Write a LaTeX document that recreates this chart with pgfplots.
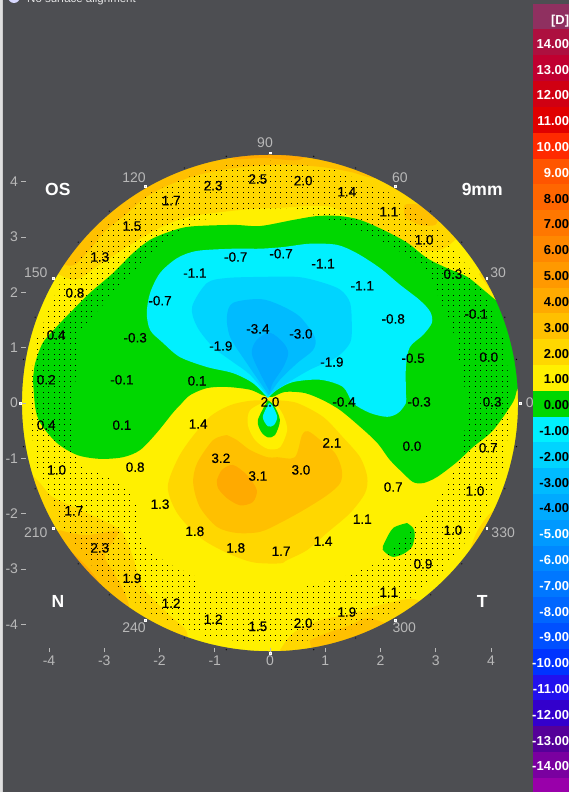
\documentclass[border=0pt]{standalone}
\usepackage{fontspec}
\setmainfont{Liberation Sans}
\newfontfamily\valfont[FakeBold=0.5]{Liberation Sans}
\usepackage{pgfplots}
\pgfplotsset{compat=1.18}
\usetikzlibrary{patterns}

\definecolor{bg}{HTML}{4D4E52}
\definecolor{tickgrey}{HTML}{B8B8B8}
\definecolor{cD}{HTML}{8F3060}
\definecolor{cp14}{HTML}{AD103F}
\definecolor{cp13}{HTML}{C00030}
\definecolor{cp12}{HTML}{D00012}
\definecolor{cp11}{HTML}{E00000}
\definecolor{cp10}{HTML}{FF2A00}
\definecolor{cp9}{HTML}{FF5500}
\definecolor{cp8}{HTML}{FF6600}
\definecolor{cp7}{HTML}{FF7700}
\definecolor{cp6}{HTML}{FF8800}
\definecolor{cp5}{HTML}{FF9900}
\definecolor{cp4}{HTML}{FFAA00}
\definecolor{cp3}{HTML}{FFC000}
\definecolor{cp2}{HTML}{FFD700}
\definecolor{cp1}{HTML}{FFF000}
\definecolor{c0}{HTML}{00D700}
\definecolor{cm1}{HTML}{00F0FF}
\definecolor{cm2}{HTML}{00D4FF}
\definecolor{cm3}{HTML}{00BBFF}
\definecolor{cm4}{HTML}{00AAFF}
\definecolor{cm5}{HTML}{0099FF}
\definecolor{cm6}{HTML}{0088FF}
\definecolor{cm7}{HTML}{0077FF}
\definecolor{cm8}{HTML}{0066FF}
\definecolor{cm9}{HTML}{0050FF}
\definecolor{cm10}{HTML}{0033FF}
\definecolor{cm11}{HTML}{2211EE}
\definecolor{cm12}{HTML}{3300CC}
\definecolor{cm13}{HTML}{550099}
\definecolor{cm14}{HTML}{7A00A0}
\definecolor{cm15}{HTML}{9900AA}

% stipple of the reference map
\pgfdeclarepatternformonly{stipple}{\pgfqpoint{-1pt}{-1pt}}{\pgfqpoint{1pt}{1pt}}{\pgfqpoint{5.4pt}{5.4pt}}{%
  \pgfpathrectangle{\pgfqpoint{-0.5pt}{-0.5pt}}{\pgfqpoint{1pt}{1pt}}\pgfusepath{fill}}

\pgfplotsset{
  zone/.style={fill=#1,draw=none,smooth,forget plot},
  band/.style={fill=#1,draw=none,forget plot},
}
\newcommand{\fs}[1]{\fontsize{#1}{#1}\selectfont}

\begin{document}
\begin{tikzpicture}
\useasboundingbox (0,0) rectangle (569pt,792pt);
\clip (0,0) rectangle (569pt,792pt);
\fill[bg] (0,0) rectangle (569pt,792pt);
\fill[black!12] (0,0) rectangle (3pt,792pt);

\begin{axis}[
    at={(26pt,144pt)},
    anchor=south west,
    scale only axis,
    width=488pt,
    height=490pt,
    xmin=-4.416,xmax=4.416,
    ymin=-4.43,ymax=4.43,
    clip=false,
    axis on top=true,
    axis line style={draw=none},
    xtick={-4,-3,-2,-1,0,1,2,3,4},
    ytick={-4,-3,-2,-1,0,1,2,3,4},
    xticklabels={-4,-3,-2,-1,0,1,2,3,4},
    yticklabels={-4,-3,-2,-1,0,1,2,3,4},
    xtick pos=bottom,
    ytick pos=left,
    tick align=outside,
    major tick length=4.5pt,
    tick style={draw=tickgrey,line width=0.8pt},
    tick label style={font=\fs{14},text=tickgrey},
  ]
% base of the map: 1 D
\addplot[band=cp1] coordinates {(-4.7,-4.7)(4.7,-4.7)(4.7,4.7)(-4.7,4.7)} --cycle;
% rim, 2 D upper
\addplot[zone=cp2] coordinates {(-3.98,2.41)(-3.53,2.23)(-3.08,2.50)(-2.53,2.86)(-1.99,3.17)(-1.45,3.37)(-.54,3.49)(.18,3.53)(1.09,3.55)(1.72,3.22)(2.35,2.95)(2.71,2.77)(3.08,2.77)(3.35,2.95)(3.71,3.40)(2,4.6)(0,4.7)(-2,4.6)(-3.8,3.6)(-3.98,2.41)};
\addplot[zone=cp2] coordinates {(3.78,2.33)(3.95,2.10)(4.16,1.85)(4.4,2.0)(4.1,2.5)(3.78,2.33)};
% rim, 3 D upper
\addplot[zone=cp3] coordinates {(-3.73,2.50)(-3.53,2.50)(-3.26,2.77)(-2.99,3.10)(-2.62,3.40)(-2.26,3.71)(-1.81,3.95)(-1.27,4.13)(-.63,4.25)(.18,4.31)(.91,4.27)(1.45,4.18)(1.90,4.07)(2.5,4.2)(0,4.7)(-2.5,4.2)(-4,2.7)(-3.73,2.50)};
\addplot[zone=cp3] coordinates {(2.44,3.35)(2.71,3.22)(2.99,3.22)(3.02,3.40)(2.71,3.58)(2.44,3.58)(2.44,3.35)};
\addplot[zone=cp4] coordinates {(-.63,4.40)(-.09,4.43)(.54,4.40)(.8,4.7)(-.9,4.7)(-.63,4.40)};
% rim, lower left
\addplot[zone=cp2] coordinates {(-4.31,-1.30)(-4.16,-1.45)(-3.93,-1.70)(-3.31,-1.99)(-2.71,-2.30)(-2.48,-2.79)(-2.30,-3.33)(-1.86,-3.80)(-1.50,-4.16)(-1.7,-4.6)(-3.5,-3.7)(-4.5,-2)(-4.6,-1.2)(-4.31,-1.30)};
\addplot[zone=cp3] coordinates {(-3.80,-2.30)(-3.35,-2.39)(-2.75,-2.33)(-2.99,-2.75)(-2.80,-3.11)(-2.58,-3.56)(-2.62,-3.83)(-3.5,-3.7)(-4.2,-2.7)(-3.80,-2.30)};
\addplot[zone=cp4] coordinates {(-3.57,-2.71)(-3.26,-3.02)(-3.02,-3.33)(-2.80,-3.56)(-3.3,-3.5)(-3.9,-2.9)(-3.57,-2.71)};
% rim, lower right
\addplot[zone=cp2] coordinates {(.18,-4.47)(.42,-4.16)(.91,-3.93)(1.50,-3.80)(2.12,-3.62)(2.66,-3.56)(3,-4)(1.5,-4.8)(.2,-4.8)(.18,-4.47)};
\addplot[zone=cp3] coordinates {(.72,-4.29)(1.03,-4.16)(1.45,-4.02)(1.81,-3.89)(2.3,-4.2)(1,-4.8)(.72,-4.29)};
\addplot[zone=cp2] coordinates {(3.62,-2.66)(3.76,-2.30)(4.07,-1.94)(4.6,-2)(4,-3)(3.62,-2.66)};
% inner plus zones
\addplot[zone=cp2] coordinates {(-.04,.05)(-.36,.04)(-.72,-.04)(-1.09,-.25)(-1.45,-.67)(-1.68,-1.03)(-1.85,-1.52)(-1.68,-1.99)(-1.27,-2.43)(-.78,-2.71)(-.31,-2.88)(.18,-2.90)(.31,-2.84)(.67,-2.66)(1.03,-2.35)(1.45,-1.99)(1.72,-1.63)(1.76,-1.34)(1.63,-.98)(1.32,-.62)(.96,-.25)(.49,0)(.13,.05)(-.04,.05)};
\addplot[zone=cp3] coordinates {(-.78,-.58)(-1.03,-.67)(-1.32,-1.09)(-1.39,-1.45)(-1.27,-1.88)(-.96,-2.24)(-.60,-2.35)(-.18,-2.33)(.18,-2.17)(.60,-1.94)(1.03,-1.67)(1.27,-1.45)(1.30,-1.21)(1.18,-.91)(.91,-.67)(.69,-.51)(.58,-.58)(.45,-.98)(.13,-.98)(-.05,-.98)(-.36,-.85)(-.60,-.67)(-.78,-.58)};
\addplot[zone=cp4] coordinates {(-.96,-1.39)(-.87,-1.21)(-.67,-1.12)(-.42,-1.30)(-.24,-1.57)(-.31,-1.79)(-.54,-1.85)(-.78,-1.72)(-.94,-1.54)(-.96,-1.39)};
% 0 D
\addplot[zone=c0] coordinates {(-4.29,.42)(-4.25,.72)(-4.11,1.09)(-3.86,1.38)(-3.62,1.63)(-3.26,1.99)(-2.84,2.35)(-2.48,2.71)(-2.17,2.95)(-1.81,3.10)(-1.45,3.19)(-.67,3.22)(-.18,3.20)(.42,3.31)(.85,3.38)(1.27,3.38)(1.63,3.31)(2.05,3.13)(2.48,2.90)(2.84,2.62)(3.20,2.44)(3.57,2.28)(3.93,1.99)(4.16,1.81)(4.71,1.50)(4.71,.33)(4.49,.27)(4.40,.02)(4.04,-.49)(3.67,-.80)(3.38,-1.07)(3.02,-1.34)(2.77,-1.45)(2.59,-1.43)(2.41,-1.27)(2.17,-1.03)(1.94,-.72)(1.63,-.43)(1.27,-.13)(.96,.05)(.63,.18)(.27,.20)(.04,.11)(-.13,.14)(-.36,.24)(-.78,.29)(-1.14,.27)(-1.45,.14)(-1.63,-.04)(-1.76,-.18)(-2.05,-.54)(-2.35,-.85)(-2.66,-.98)(-3.08,-1.01)(-3.49,-.94)(-3.86,-.72)(-4.16,-.36)(-4.25,-.07)(-4.29,.42)};
\addplot[zone=c0] coordinates {(2.48,-2.17)(2.23,-2.26)(2.08,-2.51)(2.04,-2.65)(2.21,-2.78)(2.41,-2.73)(2.57,-2.60)(2.62,-2.39)(2.59,-2.26)(2.48,-2.17)};
% centre teardrop
\addplot[zone=cp1] coordinates {(-.04,.05)(-.36,-.13)(-.40,-.40)(-.27,-.67)(-.04,-.83)(.18,-.80)(.31,-.49)(.24,-.22)(.09,0)(-.04,.05)};
\addplot[zone=c0] coordinates {(-.04,.05)(-.22,-.31)(-.16,-.52)(-.04,-.62)(.09,-.58)(.18,-.31)(.07,-.04)(-.04,.05)};
\addplot[zone=cm1] coordinates {(-.02,0)(-.13,-.25)(-.04,-.42)(.07,-.40)(.13,-.25)(.04,-.04)(-.02,0)};
% minus zones
\addplot[zone=cm1] coordinates {(-.04,.09)(-.31,.36)(-.67,.54)(-1.14,.65)(-1.63,.83)(-1.94,1.09)(-2.17,1.32)(-2.23,1.63)(-2.17,1.99)(-1.99,2.35)(-1.68,2.62)(-1.32,2.75)(-.67,2.79)(-.18,2.79)(.24,2.82)(.72,2.88)(1.21,2.86)(1.57,2.71)(1.99,2.44)(2.35,2.14)(2.71,1.86)(2.90,1.65)(2.93,1.45)(2.77,1.23)(2.53,1.01)(2.46,.65)(2.46,.18)(2.46,0)(2.32,-.18)(2.12,-.25)(1.81,-.18)(1.50,0)(1.32,.29)(.91,.42)(.42,.38)(.13,.24)(-.04,.09)};
\addplot[zone=cm2] coordinates {(-.04,.13)(-.36,.51)(-.67,.74)(-1.03,1.01)(-1.32,1.38)(-1.41,1.74)(-1.14,2.17)(-.78,2.26)(-.18,2.28)(.49,2.28)(.91,2.19)(1.27,2.05)(1.45,1.81)(1.48,1.38)(1.45,1.09)(1.21,.83)(.72,.60)(.31,.36)(-.04,.13)};
\addplot[zone=cm3] coordinates {(-.02,.14)(-.42,.72)(-.72,1.19)(-.78,1.56)(-.67,1.81)(-.18,1.88)(.18,1.77)(.54,1.56)(.81,1.19)(.78,.96)(.49,.72)(.18,.42)(-.02,.14)};
\addplot[zone=cm4] coordinates {(0,.20)(-.18,.54)(-.33,.90)(-.24,1.14)(0,1.27)(.24,1.09)(.33,.90)(.24,.65)(.05,.36)(0,.20)};
% stipple: ring between the measured zone and the rim, with a seam at the top
\addplot[pattern=stipple,pattern color=black,draw=none,forget plot] coordinates {(-.58,3.49)(-1.09,3.35)(-1.50,3.19)(-2.17,2.71)(-3.44,1.32)(-3.57,-.13)(-3.57,-.85)(-3.38,-1.16)(-2.95,-1.34)(-2.59,-1.52)(-2.41,-1.88)(-2.41,-2.12)(-2.30,-2.57)(-1.86,-2.90)(-1.32,-3.15)(-1.32,-3.38)(-.31,-3.38)(.60,-3.33)(1.32,-3.15)(1.94,-2.90)(2.66,-2.15)(2.95,-1.88)(3.38,-1.16)(3.49,-.85)(3.57,.05)(3.31,1.32)(2.84,2.41)(2.41,2.71)(1.63,3.13)(.42,3.53)(-.58,3.49)
(-.58,4.34)(0,4.38)(1.13,4.23)(2.19,3.79)(3.10,3.10)(3.79,2.19)(4.23,1.13)(4.38,0)(4.23,-1.13)(3.79,-2.19)(3.10,-3.10)(2.19,-3.79)(1.13,-4.23)(0,-4.38)(-1.13,-4.23)(-2.19,-3.79)(-3.10,-3.10)(-3.79,-2.19)(-4.23,-1.13)(-4.38,0)(-4.23,1.13)(-3.79,2.19)(-3.10,3.10)(-2.19,3.79)(-1.13,4.23)(-.58,4.34)(-.58,3.49)};
% everything outside the 9 mm disc
\fill[bg,even odd rule] (axis cs:-4.833,-7.1) rectangle (axis cs:4.76,7.3) (axis cs:0,0) circle [radius=4.489];
% rim marks
\addplot[only marks,mark=*,mark size=0.5pt,mark options={draw=none,fill=white!80!bg},forget plot] coordinates {
(4.46,.79)(4.25,1.55)(3.47,2.91)(2.91,3.47)(1.55,4.25)(.79,4.46)
(-4.46,.79)(-4.25,1.55)(-3.47,2.91)(-2.91,3.47)(-1.55,4.25)(-.79,4.46)
(4.46,-.79)(4.25,-1.55)(3.47,-2.91)(2.91,-3.47)(1.55,-4.25)(.79,-4.46)
(-4.46,-.79)(-4.25,-1.55)(-3.47,-2.91)(-2.91,-3.47)(-1.55,-4.25)(-.79,-4.46)};
\addplot[only marks,mark=square*,mark size=0.9pt,mark options={draw=white,fill=white!70!bg,line width=0.3pt},forget plot] coordinates {
(4.525,0)(3.92,2.26)(2.26,3.92)(0,4.525)(-2.26,3.92)(-3.92,2.26)(-4.525,0)(-3.92,-2.26)(-2.26,-3.92)(0,-4.525)(2.26,-3.92)(3.92,-2.26)};
% values on the map
\addplot[only marks,mark=none,forget plot,point meta=explicit symbolic,nodes near coords,
  every node near coord/.style={anchor=center,inner sep=0pt,font=\valfont\fs{13.5},text=black}]
  table[meta=v] {
x y v
-1.03 3.93 2.3
-.22 4.05 2.5
.60 4.02 2.0
1.39 3.82 1.4
-1.79 3.66 1.7
2.15 3.46 1.1
-2.50 3.20 1.5
2.79 2.95 1.0
-3.08 2.64 1.3
3.31 2.33 0.3
-3.53 1.99 0.8
3.73 1.61 -0.1
-3.87 1.23 0.4
3.96 .83 0.0
-4.05 .42 0.2
4.02 .02 0.3
-4.05 -.40 0.4
3.95 -.81 0.7
-3.86 -1.21 1.0
3.71 -1.59 1.0
-3.55 -1.95 1.7
3.31 -2.30 1.0
-3.08 -2.62 2.3
2.77 -2.91 0.9
-2.50 -3.17 1.9
2.15 -3.42 1.1
-1.79 -3.62 1.2
1.39 -3.78 1.9
-1.03 -3.91 1.2
.60 -3.98 2.0
-.22 -4.04 1.5
-.62 2.64 -0.7
.20 2.70 -0.7
-1.36 2.35 -1.1
.96 2.52 -1.1
1.67 2.12 -1.1
-1.99 1.85 -0.7
2.23 1.52 -0.8
-2.44 1.18 -0.3
-.22 1.34 -3.4
.56 1.25 -3.0
-.89 1.03 -1.9
1.12 .74 -1.9
2.59 .81 -0.5
-2.68 .42 -0.1
-1.32 .40 0.1
0 .02 2.0
1.34 .02 -0.4
2.70 .02 -0.3
-2.68 -.40 0.1
-1.30 -.38 1.4
1.12 -.72 2.1
2.57 -.78 0.0
-2.44 -1.16 0.8
-.89 -1.00 3.2
-.22 -1.32 3.1
.56 -1.21 3.0
2.23 -1.52 0.7
-1.99 -1.83 1.3
1.67 -2.10 1.1
-1.36 -2.32 1.8
.96 -2.50 1.4
-.62 -2.62 1.8
.20 -2.68 1.7
};
% polar labels
\begin{scope}[every node/.style={font=\fs{14},text=tickgrey,inner sep=0pt}]
\node at (axis cs:-.09,4.71) {90};
\node at (axis cs:-2.46,4.07) {120};
\node at (axis cs:2.35,4.07) {60};
\node at (axis cs:-4.24,2.35) {150};
\node at (axis cs:4.13,2.35) {30};
\node at (axis cs:4.70,0) {0};
\node at (axis cs:-4.24,-2.35) {210};
\node at (axis cs:-2.46,-4.07) {240};
\node at (axis cs:2.43,-4.07) {300};
\node at (axis cs:4.22,-2.35) {330};
\end{scope}
\begin{scope}[every node/.style={font=\fs{17.5}\bfseries,text=white,inner sep=0pt}]
\node at (axis cs:-3.84,3.86) {OS};
\node at (axis cs:3.84,3.86) {9mm};
\node at (axis cs:-3.84,-3.58) {N};
\node at (axis cs:3.84,-3.58) {T};
\end{scope}
\end{axis}

% colour scale
\begin{axis}[
    at={(533.3pt,0pt)},
    anchor=south west,
    scale only axis,
    width=36pt,
    height=788.3pt,
    xmin=0,xmax=1,
    ymin=-15.05,ymax=15.5,
    clip=false,
    hide axis,
  ]
\addplot[band=cD] coordinates {(0,14.5)(1,14.5)(1,15.5)(0,15.5)} --cycle;
\addplot[band=cp14] coordinates {(0,13.5)(1,13.5)(1,14.5)(0,14.5)} --cycle;
\addplot[band=cp13] coordinates {(0,12.5)(1,12.5)(1,13.5)(0,13.5)} --cycle;
\addplot[band=cp12] coordinates {(0,11.5)(1,11.5)(1,12.5)(0,12.5)} --cycle;
\addplot[band=cp11] coordinates {(0,10.5)(1,10.5)(1,11.5)(0,11.5)} --cycle;
\addplot[band=cp10] coordinates {(0,9.5)(1,9.5)(1,10.5)(0,10.5)} --cycle;
\addplot[band=cp9] coordinates {(0,8.5)(1,8.5)(1,9.5)(0,9.5)} --cycle;
\addplot[band=cp8] coordinates {(0,7.5)(1,7.5)(1,8.5)(0,8.5)} --cycle;
\addplot[band=cp7] coordinates {(0,6.5)(1,6.5)(1,7.5)(0,7.5)} --cycle;
\addplot[band=cp6] coordinates {(0,5.5)(1,5.5)(1,6.5)(0,6.5)} --cycle;
\addplot[band=cp5] coordinates {(0,4.5)(1,4.5)(1,5.5)(0,5.5)} --cycle;
\addplot[band=cp4] coordinates {(0,3.5)(1,3.5)(1,4.5)(0,4.5)} --cycle;
\addplot[band=cp3] coordinates {(0,2.5)(1,2.5)(1,3.5)(0,3.5)} --cycle;
\addplot[band=cp2] coordinates {(0,1.5)(1,1.5)(1,2.5)(0,2.5)} --cycle;
\addplot[band=cp1] coordinates {(0,.5)(1,.5)(1,1.5)(0,1.5)} --cycle;
\addplot[band=c0] coordinates {(0,-.5)(1,-.5)(1,.5)(0,.5)} --cycle;
\addplot[band=cm1] coordinates {(0,-1.5)(1,-1.5)(1,-.5)(0,-.5)} --cycle;
\addplot[band=cm2] coordinates {(0,-2.5)(1,-2.5)(1,-1.5)(0,-1.5)} --cycle;
\addplot[band=cm3] coordinates {(0,-3.5)(1,-3.5)(1,-2.5)(0,-2.5)} --cycle;
\addplot[band=cm4] coordinates {(0,-4.5)(1,-4.5)(1,-3.5)(0,-3.5)} --cycle;
\addplot[band=cm5] coordinates {(0,-5.5)(1,-5.5)(1,-4.5)(0,-4.5)} --cycle;
\addplot[band=cm6] coordinates {(0,-6.5)(1,-6.5)(1,-5.5)(0,-5.5)} --cycle;
\addplot[band=cm7] coordinates {(0,-7.5)(1,-7.5)(1,-6.5)(0,-6.5)} --cycle;
\addplot[band=cm8] coordinates {(0,-8.5)(1,-8.5)(1,-7.5)(0,-7.5)} --cycle;
\addplot[band=cm9] coordinates {(0,-9.5)(1,-9.5)(1,-8.5)(0,-8.5)} --cycle;
\addplot[band=cm10] coordinates {(0,-10.5)(1,-10.5)(1,-9.5)(0,-9.5)} --cycle;
\addplot[band=cm11] coordinates {(0,-11.5)(1,-11.5)(1,-10.5)(0,-10.5)} --cycle;
\addplot[band=cm12] coordinates {(0,-12.5)(1,-12.5)(1,-11.5)(0,-11.5)} --cycle;
\addplot[band=cm13] coordinates {(0,-13.5)(1,-13.5)(1,-12.5)(0,-12.5)} --cycle;
\addplot[band=cm14] coordinates {(0,-14.5)(1,-14.5)(1,-13.5)(0,-13.5)} --cycle;
\addplot[band=cm15] coordinates {(0,-15.05)(1,-15.05)(1,-14.5)(0,-14.5)} --cycle;
% scale labels
\addplot[only marks,mark=none,forget plot,point meta=explicit symbolic,nodes near coords,
  every node near coord/.style={anchor=east,inner sep=0pt,yshift=-1.5pt,font=\fs{13}\bfseries,text=white}]
  table[meta=v] {
x y v
1 14.9 [D]
1 14 14.00
1 13 13.00
1 12 12.00
1 11 11.00
1 10 10.00
1 9 9.00
1 -5 -5.00
1 -6 -6.00
1 -7 -7.00
1 -8 -8.00
1 -9 -9.00
1 -10 -10.00
1 -11 -11.00
1 -12 -12.00
1 -13 -13.00
1 -14 -14.00
};
\addplot[only marks,mark=none,forget plot,point meta=explicit symbolic,nodes near coords,
  every node near coord/.style={anchor=east,inner sep=0pt,yshift=-1.5pt,font=\fs{13}\bfseries,text=black}]
  table[meta=v] {
x y v
1 8 8.00
1 7 7.00
1 6 6.00
1 5 5.00
1 4 4.00
1 3 3.00
1 2 2.00
1 1 1.00
1 0 0.00
1 -1 -1.00
1 -2 -2.00
1 -3 -3.00
1 -4 -4.00
};
\end{axis}

% header line, cut by the picture's top edge
\fill[white!85!blue] (14pt,795pt) circle [radius=6pt];
\node[anchor=base west,inner sep=0pt,font=\fs{11.5},text=white!85!bg] at (27pt,789pt) {No surface alignment};
\end{tikzpicture}
\end{document}
